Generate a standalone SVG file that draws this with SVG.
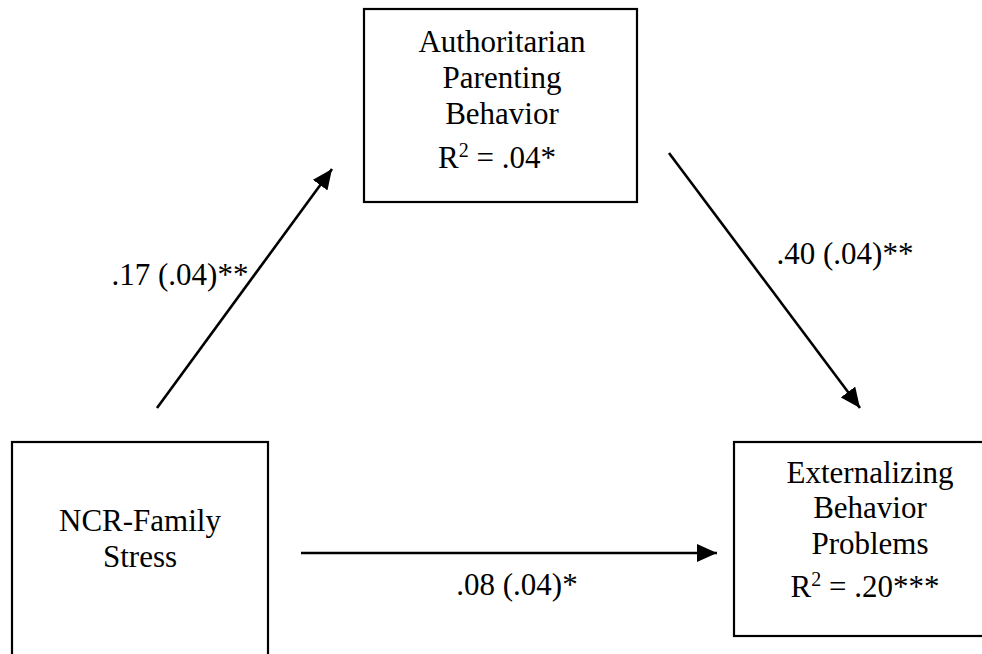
<svg xmlns="http://www.w3.org/2000/svg" width="982" height="654" viewBox="0 0 982 654">
<style>
.box{fill:#fff;stroke:#000;stroke-width:2.2}
.t{font-family:"Liberation Serif","Times New Roman",serif;font-size:31px;fill:#000;text-anchor:middle}
.sup{font-size:20px}
.c{stroke:#000;stroke-width:2.6;fill:none}
</style>
<defs>
<marker id="ah" markerUnits="userSpaceOnUse" markerWidth="22" markerHeight="18" refX="20" refY="9" orient="auto">
<path d="M0,0 L20,9 L0,18 Z" fill="#000"/>
</marker>
</defs>
<rect width="982" height="654" fill="#fff"/>
<g id="node-apb">
<rect class="box" x="364" y="9" width="273" height="193"/>
<text class="t" x="502" y="52">Authoritarian</text>
<text class="t" x="502" y="88">Parenting</text>
<text class="t" x="502" y="124">Behavior</text>
<text class="t" x="497" y="168">R<tspan class="sup" dy="-11">2</tspan><tspan dy="11"> = .04*</tspan></text>
</g>
<g id="node-ncr">
<rect class="box" x="12" y="442" width="256" height="215"/>
<text class="t" x="140" y="531">NCR-Family</text>
<text class="t" x="140" y="567">Stress</text>
</g>
<g id="node-ebp">
<rect class="box" x="734" y="442" width="275" height="194"/>
<text class="t" x="870" y="483">Externalizing</text>
<text class="t" x="870" y="518">Behavior</text>
<text class="t" x="870" y="554">Problems</text>
<text class="t" x="865" y="597">R<tspan class="sup" dy="-11">2</tspan><tspan dy="11"> = .20***</tspan></text>
</g>
<g id="connectors">
<line class="c" x1="157" y1="408" x2="332" y2="169" marker-end="url(#ah)"/>
<line class="c" x1="669" y1="153" x2="860" y2="408" marker-end="url(#ah)"/>
<line class="c" x1="301" y1="553" x2="717" y2="553" marker-end="url(#ah)"/>
<text class="t" x="180" y="285">.17 (.04)**</text>
<text class="t" x="845" y="264">.40 (.04)**</text>
<text class="t" x="517" y="595">.08 (.04)*</text>
</g>
</svg>
